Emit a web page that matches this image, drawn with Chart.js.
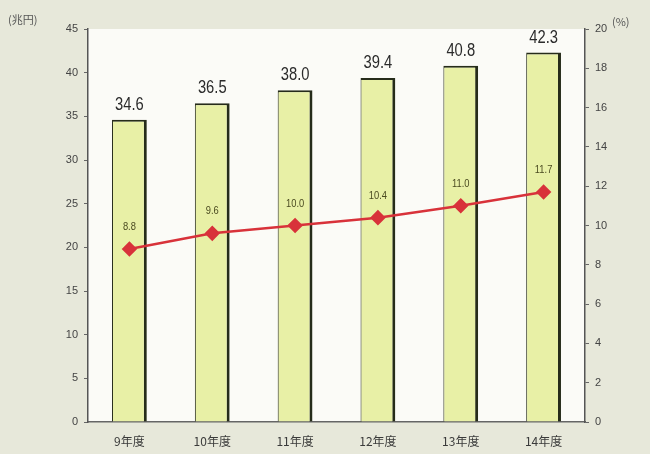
<!DOCTYPE html>
<html>
<head>
<meta charset="utf-8">
<script src="https://cdn.jsdelivr.net/npm/chart.js@4/dist/chart.umd.min.js"></script>
<style>
  html, body { margin: 0; padding: 0; background: #e7e8da; }
  #wrap { position: relative; width: 650px; height: 454px; }
  .unit { position: absolute; font: 11px 'Noto Sans CJK JP', sans-serif; color: #555; }
</style>
</head>
<body>
<div id="wrap">
  <canvas id="chart" width="650" height="454"></canvas>
  <div class="unit" style="left:8px; top:11px;">(兆円)</div>
  <div class="unit" style="left:612px; top:13px;">(%)</div>
</div>
<script>
// fiscal years, amounts (trillion yen) and share (%)
const years = ['9年度', '10年度', '11年度', '12年度', '13年度', '14年度'];
const amounts = [34.6, 36.5, 38.0, 39.4, 40.8, 42.3];
const shares = [8.8, 9.6, 10.0, 10.4, 11.0, 11.7];

const FONT = "'Liberation Sans', 'DejaVu Sans', sans-serif";

// white plot area behind the bars
const plotBg = {
  id: 'plotBg',
  beforeDraw(chart) {
    const { ctx, chartArea: a } = chart;
    ctx.save();
    ctx.fillStyle = '#fbfbf7';
    ctx.fillRect(a.left, a.top, a.right - a.left, a.bottom - a.top);
    ctx.restore();
  }
};

// squeezed text, like a condensed face
function narrowText(ctx, text, x, y, sx) {
  ctx.save();
  ctx.translate(x, y);
  ctx.scale(sx, 1);
  ctx.fillText(text, 0, 0);
  ctx.restore();
}

// value labels over bars and line points
const valueLabels = {
  id: 'valueLabels',
  afterDatasetsDraw(chart) {
    const { ctx } = chart;
    ctx.save();
    ctx.textAlign = 'center';
    ctx.textBaseline = 'alphabetic';
    chart.getDatasetMeta(0).data.forEach((el, i) => {
      ctx.font = '18px ' + FONT;
      ctx.fillStyle = '#2b2b2b';
      narrowText(ctx, amounts[i].toFixed(1), el.x, el.y - 10, 0.82);
    });
    chart.getDatasetMeta(1).data.forEach((el, i) => {
      ctx.font = '11px ' + FONT;
      ctx.fillStyle = '#4a4a20';
      narrowText(ctx, shares[i].toFixed(1), el.x, el.y - 19, 0.85);
    });
    ctx.restore();
  }
};

new Chart(document.getElementById('chart'), {
  data: {
    labels: years,
    datasets: [
      {
        type: 'bar',
        data: amounts,
        yAxisID: 'y',
        backgroundColor: '#e8f0a6',
        borderColor: '#262c1a',
        borderWidth: { top: 2, right: 3, left: 1, bottom: 0 },
        borderSkipped: false,
        categoryPercentage: 1,
        barPercentage: 0.42,
        order: 2
      },
      {
        type: 'line',
        data: shares,
        yAxisID: 'y1',
        borderColor: '#d8323a',
        borderWidth: 2.5,
        pointStyle: 'rectRot',
        pointRadius: 6,
        pointBackgroundColor: '#d8323a',
        pointBorderColor: '#d8323a',
        tension: 0,
        order: 1
      }
    ]
  },
  options: {
    responsive: false,
    animation: false,
    layout: { padding: { top: 29, left: 0, right: 0, bottom: 0 } },
    plugins: { legend: { display: false }, tooltip: { enabled: false } },
    scales: {
      x: {
        grid: { display: false },
        border: { color: '#666', width: 1.5 },
        ticks: { color: '#3a3a3a', font: { size: 12, family: "'Noto Sans CJK JP', sans-serif" }, padding: 4 },
        afterFit(s) { s.height = 32; }
      },
      y: {
        position: 'left',
        min: 0, max: 45,
        ticks: { stepSize: 5, color: '#444', font: { size: 11, family: FONT }, padding: 6 },
        grid: { drawOnChartArea: false, tickLength: 4, color: '#666' },
        border: { color: '#555', width: 1.5 },
        afterFit(s) { s.width = 88; }
      },
      y1: {
        position: 'right',
        min: 0, max: 20,
        ticks: { stepSize: 2, color: '#444', font: { size: 11, family: FONT }, padding: 6 },
        grid: { drawOnChartArea: false, tickLength: 4, color: '#666' },
        border: { color: '#555', width: 1.5 },
        afterFit(s) { s.width = 65; }
      }
    }
  },
  plugins: [plotBg, valueLabels]
});
</script>
</body>
</html>
